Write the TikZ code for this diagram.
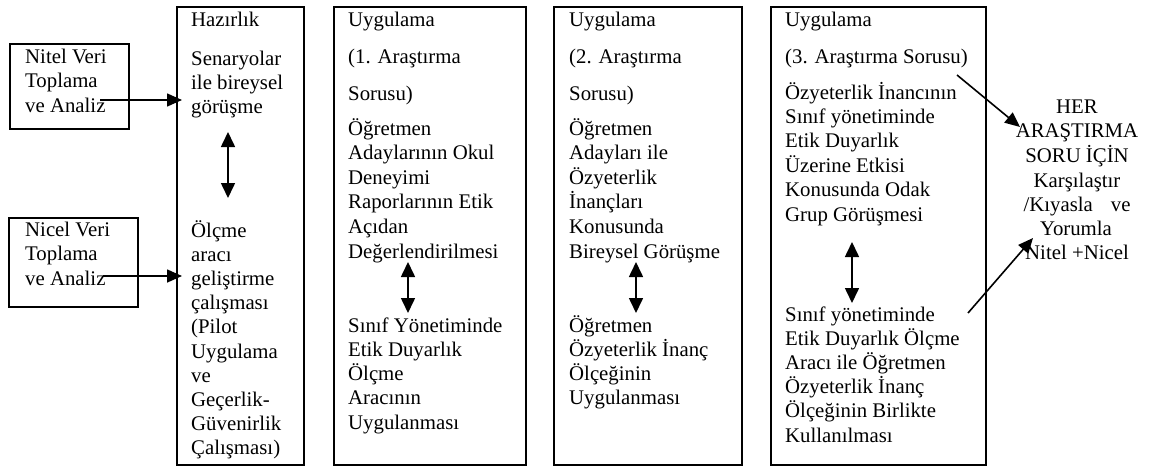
\documentclass[tikz,border=0pt]{standalone}
\usepackage{fontspec}
\setmainfont{Liberation Serif}
\usetikzlibrary{arrows.meta}
% one row of text per list item, baselines spaced evenly
\newcommand\textrows[5]{%
  \foreach \t [count=\i] in {#5} {\node[txt] (#1-\i) at (#2,{#3+(\i-1)*#4}) {\t};}}
\begin{document}
\begin{tikzpicture}[x=1pt,y=-1pt,
  frame/.style={draw=black,line width=2pt,inner sep=0pt,anchor=north west},
  txt/.style={inner sep=0pt,anchor=base west,font=\fontsize{20.8}{24}\selectfont},
  ctxt/.style={txt,anchor=base},
  conn/.style={line width=1.6pt,-{Triangle[length=15pt,width=13pt]}},
  dconn/.style={line width=1.6pt,{Triangle[length=15pt,width=14pt]}-{Triangle[length=15pt,width=14pt]}}]
\useasboundingbox (0,0) rectangle (1159,469);

% frames
\node[frame,minimum width=119pt,minimum height=85pt] (nitelbox) at (9,43) {};
\node[frame,minimum width=129pt,minimum height=89pt] (nicelbox) at (8,217) {};
\node[frame,minimum width=127pt,minimum height=458pt] (hazbox) at (176,6) {};
\node[frame,minimum width=192pt,minimum height=458pt] (app1box) at (333,6) {};
\node[frame,minimum width=188pt,minimum height=458pt] (app2box) at (553,6) {};
\node[frame,minimum width=215pt,minimum height=458pt] (app3box) at (770,6) {};

% left boxes
\textrows{nitel}{25}{63}{24.5}{Nitel Veri,Toplama,ve Analiz}
\textrows{nicel}{25}{236}{24.5}{Nicel Veri,Toplama,ve Analiz}

% preparation column
\node[txt] (haz-title) at (191,26) {Hazırlık};
\textrows{hazup}{191}{65}{24}{Senaryolar,ile bireysel,görüşme}
\textrows{hazlow}{191}{237}{24.2}{Ölçme,aracı,geliştirme,çalışması,{(Pilot},Uygulama,ve,Geçerlik-,Güvenirlik,{Çalışması)}}

% first application column
\node[txt] (a1-title) at (348,26) {Uygulama};
\node[txt] (a1-q1) at (348,63) {(1. Araştırma};
\node[txt] (a1-q2) at (348,100) {Sorusu)};
\textrows{a1up}{348}{135}{24.6}{Öğretmen,Adaylarının Okul,Deneyimi,Raporlarının Etik,Açıdan,Değerlendirilmesi}
\textrows{a1low}{348}{332}{24.25}{Sınıf Yönetiminde,Etik Duyarlık,Ölçme,Aracının,Uygulanması}

% second application column
\node[txt] (a2-title) at (569,26) {Uygulama};
\node[txt] (a2-q1) at (569,63) {(2. Araştırma};
\node[txt] (a2-q2) at (569,100) {Sorusu)};
\textrows{a2up}{569}{135}{24.6}{Öğretmen,Adayları ile,Özyeterlik,İnançları,Konusunda,Bireysel Görüşme}
\textrows{a2low}{569}{332}{24.25}{Öğretmen,Özyeterlik İnanç,Ölçeğinin,Uygulanması}

% third application column
\node[txt] (a3-title) at (785,26) {Uygulama};
\node[txt] (a3-q) at (785,63) {(3. Araştırma Sorusu)};
\textrows{a3up}{785}{99}{24.4}{Özyeterlik İnancının,Sınıf yönetiminde,Etik Duyarlık,Üzerine Etkisi,Konusunda Odak,Grup Görüşmesi}
\textrows{a3low}{785}{321}{24.2}{Sınıf yönetiminde,Etik Duyarlık Ölçme,Aracı ile Öğretmen,Özyeterlik İnanç,Ölçeğinin Birlikte,Kullanılması}

% comparison text
\node[ctxt] (cmp-1) at (1077,113) {HER};
\node[ctxt] (cmp-2) at (1077,137) {ARAŞTIRMA};
\node[ctxt] (cmp-3) at (1077,162) {SORU İÇİN};
\node[ctxt] (cmp-4) at (1077,187) {Karşılaştır};
\node[ctxt] (cmp-5) at (1077,211) {/Kıyasla\hspace{18pt}ve};
\node[ctxt] (cmp-6) at (1076,235) {Yorumla};
\node[ctxt] (cmp-7) at (1077,259) {Nitel +Nicel};

% connector ends
\coordinate (nitelout) at (100,100);
\coordinate (hazin1) at (182,100);
\coordinate (nicelout) at (103,276);
\coordinate (hazin2) at (182,276);
\coordinate (hazA) at (228,132);
\coordinate (hazB) at (228,198);
\coordinate (a1A) at (408,262);
\coordinate (a1B) at (408,313);
\coordinate (a2A) at (636,262);
\coordinate (a2B) at (636,313);
\coordinate (a3A) at (852,242);
\coordinate (a3B) at (852,303);
\coordinate (a3outA) at (957,75);
\coordinate (cmpinA) at (1020,127);
\coordinate (a3outB) at (968,313);
\coordinate (cmpinB) at (1033,238);

% connectors
\draw[conn] (nitelout) -- (hazin1);
\draw[conn] (nicelout) -- (hazin2);
\draw[dconn] (hazA) -- (hazB);
\draw[dconn] (a1A) -- (a1B);
\draw[dconn] (a2A) -- (a2B);
\draw[dconn] (a3A) -- (a3B);
\draw[conn] (a3outA) -- (cmpinA);
\draw[conn] (a3outB) -- (cmpinB);
\end{tikzpicture}
\end{document}
